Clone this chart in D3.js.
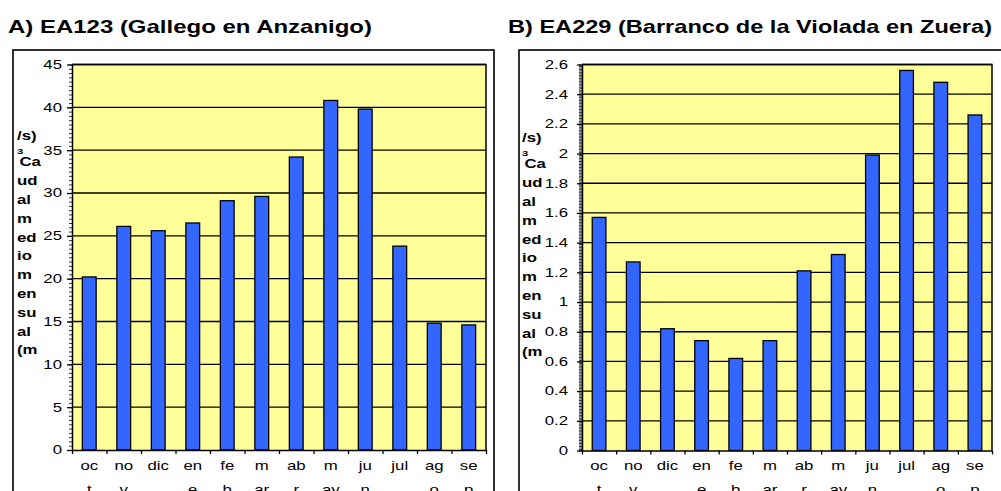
<!DOCTYPE html>
<html>
<head>
<meta charset="utf-8">
<script src="https://cdn.jsdelivr.net/npm/d3@7"></script>
<style>
  body { margin: 0; background: #fff; }
  text { font-family: "Liberation Sans", Arial, sans-serif; fill: #000; }
</style>
</head>
<body>
<script>
const width = 1001;
const height = 491;

// months (oct -> sep, hydrological year) and the way the labels wrap
const months = ["oct", "nov", "dic", "ene", "feb", "mar", "abr", "may", "jun", "jul", "ago", "sep"];
const monthLabels = [["oc", "t"], ["no", "v"], ["dic"], ["en", "e"], ["fe", "b"], ["m", "ar"],
                     ["ab", "r"], ["m", "ay"], ["ju", "n"], ["jul"], ["ag", "o"], ["se", "p"]];

// caudal medio mensual (m3/s)
const caudalA = [20.2, 26.1, 25.6, 26.5, 29.1, 29.6, 34.2, 40.8, 39.8, 23.8, 14.8, 14.6];
const caudalB = [1.57, 1.27, 0.82, 0.74, 0.62, 0.74, 1.21, 1.32, 1.99, 2.56, 2.48, 2.26];

const ticksA = d3.range(0, 46, 5);
const ticksB = d3.range(0, 14).map(i => +(i * 0.2).toFixed(1));

const titleA = "A) EA123 (Gallego en Anzanigo)";
const titleB = "B) EA229 (Barranco de la Violada en Zuera)";

// y label as it wraps in the original
const yLabelLines = ["/s)", "Ca", "ud", "al", "m", "ed", "io", "m", "en", "su", "al", "(m"];

const sx = 1.4; // small text is stretched sideways in the original

const svg = d3.select("body").append("svg")
    .attr("width", width)
    .attr("height", height);

function panel(cfg) {
  const g = svg.append("g");

  // outer frame
  g.append("rect")
    .attr("x", cfg.box[0]).attr("y", cfg.box[1])
    .attr("width", cfg.box[2] - cfg.box[0]).attr("height", 600)
    .attr("fill", "none").attr("stroke", "#000").attr("stroke-width", 1.6);

  g.append("text")
    .attr("x", cfg.titleX).attr("y", 33)
    .attr("textLength", cfg.titleLen).attr("lengthAdjust", "spacingAndGlyphs")
    .style("font-size", "19px").style("font-weight", "bold")
    .text(cfg.title);

  const p = cfg.plot;
  const y = d3.scaleLinear().domain([0, cfg.yMax]).range([p.bottom, p.top]);
  const x = d3.scaleBand().domain(months).range([p.left, p.right]);
  const xEdge = d3.scaleLinear().domain([0, months.length]).range([p.left, p.right]);

  g.append("rect")
    .attr("x", p.left).attr("y", p.top)
    .attr("width", p.right - p.left).attr("height", p.bottom - p.top)
    .attr("fill", "#ffff99");

  g.append("g").selectAll("line")
    .data(cfg.ticks.filter(v => v > 0))
    .join("line")
    .attr("x1", p.left).attr("x2", p.right)
    .attr("y1", d => y(d)).attr("y2", d => y(d))
    .attr("stroke", "#000").attr("stroke-width", 1.3);

  const bw = x.bandwidth() * 0.4;
  g.append("g").selectAll("rect")
    .data(cfg.values)
    .join("rect")
    .attr("x", (d, i) => x(months[i]) + (x.bandwidth() - bw) / 2)
    .attr("y", d => y(d))
    .attr("width", bw)
    .attr("height", d => y(0) - y(d))
    .attr("fill", "#3366ff")
    .attr("stroke", "#000").attr("stroke-width", 1.3);

  // top and right border of the plot
  g.append("path")
    .attr("d", `M${p.left},${p.top}H${p.right}V${p.bottom}`)
    .attr("fill", "none").attr("stroke", "#000").attr("stroke-width", 1.5);

  // minor ticks
  const minorAxis = g.append("g").attr("transform", `translate(${p.left},0)`)
    .call(d3.axisLeft(y).tickValues(cfg.minor).tickSize(3).tickFormat(""));
  minorAxis.select(".domain").remove();
  minorAxis.selectAll("line").attr("stroke-width", 0.8);

  const yAxis = g.append("g").attr("transform", `translate(${p.left},0)`)
    .call(d3.axisLeft(y).tickValues(cfg.ticks).tickSize(5).tickSizeOuter(0).tickFormat(cfg.fmt));
  yAxis.select(".domain").attr("stroke-width", 1.5);
  yAxis.selectAll("line").attr("stroke-width", 1.3);
  yAxis.selectAll("text")
    .attr("transform", `scale(${sx},1)`)
    .attr("x", -cfg.tickPad / sx)
    .style("font-size", "12px")
    .style("font-family", "Liberation Sans, Arial, sans-serif");

  const xAxis = g.append("g").attr("transform", `translate(0,${p.bottom})`)
    .call(d3.axisBottom(xEdge).tickValues(d3.range(months.length + 1)).tickSize(4).tickSizeOuter(0).tickFormat(""));
  xAxis.select(".domain").attr("stroke-width", 1.5);
  xAxis.selectAll("line").attr("stroke-width", 1.3);

  // month labels, wrapped in two lines
  const lab = g.append("g").attr("transform", `scale(${sx},1)`)
    .selectAll("text")
    .data(monthLabels)
    .join("text")
    .attr("text-anchor", "middle")
    .style("font-size", "12px");
  lab.each(function(lines, i) {
    const cx = (x(months[i]) + x.bandwidth() / 2) / sx;
    d3.select(this).selectAll("tspan")
      .data(lines)
      .join("tspan")
      .attr("x", cx)
      .attr("y", (d, j) => 470 + j * 24)
      .text(d => d);
  });

  // y label
  const yl = g.append("g").attr("transform", `scale(${sx},1)`);
  yl.selectAll("text")
    .data(yLabelLines)
    .join("text")
    .attr("x", (d, i) => (i === 1 ? cfg.labelX + 2.5 : cfg.labelX) / sx)
    .attr("y", (d, i) => cfg.labelY + (i === 0 ? 0 : 26.5 + (i - 1) * 18.8))
    .style("font-size", "12px").style("font-weight", "bold")
    .text(d => d);
  yl.append("text")
    .attr("x", cfg.labelX / sx)
    .attr("y", cfg.labelY + 14)
    .style("font-size", "8px").style("font-weight", "bold")
    .text("3");
}

panel({
  values: caudalA, yMax: 45, ticks: ticksA, minor: d3.range(0, 45.1, 0.5),
  fmt: d3.format("d"),
  box: [13, 50, 494],
  plot: {left: 72, right: 486, top: 64.5, bottom: 450},
  title: titleA, titleX: 8, titleLen: 364,
  tickPad: 10, labelX: 17, labelY: 140
});

panel({
  values: caudalB, yMax: 2.6, ticks: ticksB, minor: d3.range(0, 261).map(i => i / 100),
  fmt: d => String(+d.toFixed(1)),
  box: [519, 50, 1040],
  plot: {left: 582, right: 992, top: 64.5, bottom: 450.5},
  title: titleB, titleX: 508, titleLen: 484,
  tickPad: 14, labelX: 522, labelY: 142
});
</script>
</body>
</html>
